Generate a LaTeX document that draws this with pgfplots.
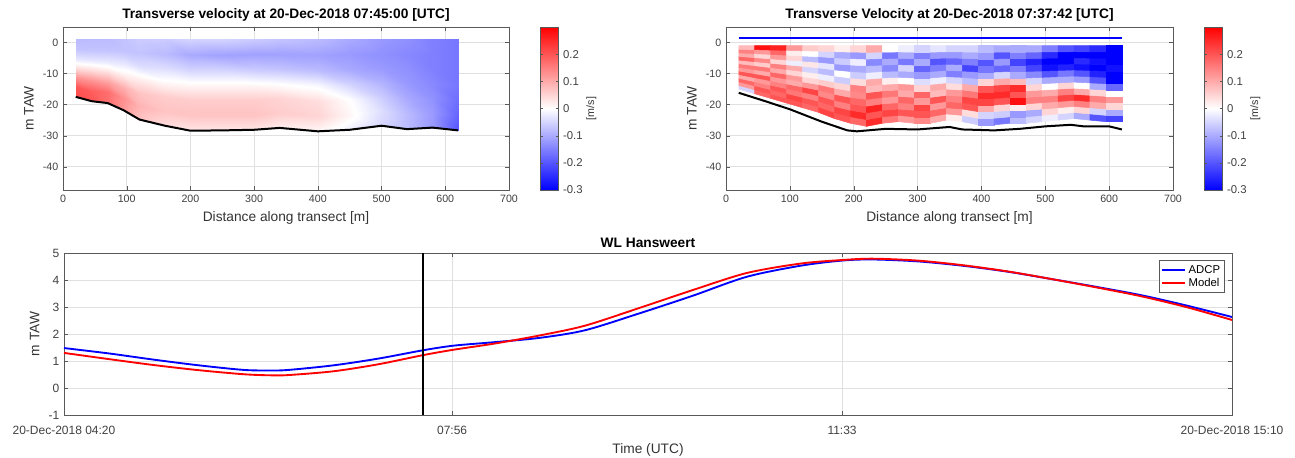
\documentclass[border=0pt]{standalone}
\usepackage{fontspec}
\setmainfont{Liberation Sans}
\usepackage{pgfplots}
\usepackage{pgfplotstable}
\pgfplotsset{compat=1.18}

\definecolor{axgray}{gray}{0.35}
\definecolor{gridgray}{gray}{0.88}

\pgfplotsset{
  matlab/.style={
    scale only axis,
    anchor=south west,
    font=\fontsize{8}{9.6}\selectfont,
    /pgf/number format/assume math mode=true,
    tick label style={font=\fontsize{8}{9.6}\selectfont, text=black!75},
    label style={font=\fontsize{10.3}{12}\selectfont, text=black!80},
    title style={font=\bfseries\fontsize{10.3}{12}\selectfont, yshift=-5.5pt},
    axis line style={axgray, line width=0.4pt},
    major tick style={axgray},
    major tick length=3pt,
    grid=major,
    major grid style={gridgray, line width=0.4pt},
    tick align=inside,
  },
  colormap={bwr}{rgb255=(0,0,255) rgb255=(255,255,255) rgb255=(255,0,0)},
  velbar/.style={
    colorbar,
    point meta min=-0.3, point meta max=0.3,
    colorbar style={
      at={(parent axis.north east)}, anchor=north west, xshift=15pt,
      width=13.5pt,
      ytick={-0.3,-0.2,-0.1,0,0.1,0.2},
      yticklabel style={font=\fontsize{8.5}{10}\selectfont, text=black!75,
        /pgf/number format/.cd, fixed, assume math mode=true},
      ylabel={[m/s]},
      ylabel style={font=\fontsize{8}{9.6}\selectfont, text=black!80, yshift=4pt},
      axis line style={axgray},
      major tick length=2pt,
    },
  },
}

% left panel: smoothed field, columns from bed (first row) to surface
\pgfplotstableread{
x y c
20 -17.5 0.21
20 -14.42 0.20
20 -11.33 0.13
20 -8.25 0.04
20 -5.17 -0.03
20 -2.08 -0.07
20 1 -0.08
45 -18.9 0.20
45 -15.58 0.19
45 -12.27 0.13
45 -8.95 0.04
45 -5.63 -0.03
45 -2.32 -0.07
45 1 -0.08
70 -19.5 0.17
70 -16.08 0.17
70 -12.67 0.11
70 -9.25 0.03
70 -5.83 -0.03
70 -2.42 -0.07
70 1 -0.08
95 -21.8 0.12
95 -18.0 0.13
95 -14.2 0.09
95 -10.4 0.02
95 -6.6 -0.03
95 -2.8 -0.07
95 1 -0.07
120 -24.8 0.07
120 -20.5 0.09
120 -16.2 0.07
120 -11.9 0.02
120 -7.6 -0.04
120 -3.3 -0.07
120 1 -0.06
160 -26.8 0.04
160 -22.17 0.07
160 -17.53 0.06
160 -12.9 0.01
160 -8.27 -0.04
160 -3.63 -0.08
160 1 -0.06
200 -28.4 0.03
200 -23.5 0.07
200 -18.6 0.06
200 -13.7 0.01
200 -8.8 -0.05
200 -3.9 -0.10
200 1 -0.05
250 -28.3 0.03
250 -23.42 0.07
250 -18.53 0.06
250 -13.65 0.01
250 -8.77 -0.05
250 -3.88 -0.11
250 1 -0.05
300 -28.1 0.03
300 -23.25 0.07
300 -18.4 0.06
300 -13.55 0.01
300 -8.7 -0.06
300 -3.85 -0.11
300 1 -0.06
340 -27.5 0.02
340 -22.75 0.06
340 -18.0 0.05
340 -13.25 0.00
340 -8.5 -0.07
340 -3.75 -0.11
340 1 -0.07
400 -28.6 0.01
400 -23.67 0.05
400 -18.73 0.04
400 -13.8 -0.01
400 -8.87 -0.08
400 -3.93 -0.11
400 1 -0.08
450 -28.1 -0.02
450 -23.25 0.01
450 -18.4 0.00
450 -13.55 -0.05
450 -8.7 -0.10
450 -3.85 -0.12
450 1 -0.10
500 -26.8 -0.05
500 -22.17 -0.04
500 -17.53 -0.06
500 -12.9 -0.09
500 -8.27 -0.12
500 -3.63 -0.13
500 1 -0.12
540 -27.9 -0.08
540 -23.08 -0.08
540 -18.27 -0.10
540 -13.45 -0.12
540 -8.63 -0.13
540 -3.82 -0.14
540 1 -0.13
580 -27.4 -0.12
580 -22.67 -0.12
580 -17.93 -0.13
580 -13.2 -0.14
580 -8.47 -0.15
580 -3.73 -0.15
580 1 -0.15
620 -28.3 -0.20
620 -23.42 -0.18
620 -18.53 -0.17
620 -13.65 -0.16
620 -8.77 -0.16
620 -3.88 -0.16
620 1 -0.16
}\fieldA

\pgfplotstableread{
x y
20 -17.5
45 -18.9
70 -19.5
95 -21.8
120 -24.8
160 -26.8
200 -28.4
250 -28.3
300 -28.1
340 -27.5
400 -28.6
450 -28.1
500 -26.8
540 -27.9
580 -27.4
620 -28.3
}\bedA

% right panel: ADCP bins, columns from lowest bin to the top bin
\pgfplotstableread{
x y c
20 -15 -0.05
20 -13.83 0.12
20 -12.67 0.18
20 -11.5 0.10
20 -10.33 0.20
20 -9.17 0.12
20 -8 0.16
20 -6.83 0.08
20 -5.67 0.18
20 -4.5 0.10
20 -3.33 0.15
20 -2.17 0.08
20 -1 0.10
45 -16.5 0.18
45 -15.21 0.20
45 -13.92 0.15
45 -12.63 0.12
45 -11.33 0.20
45 -10.04 0.10
45 -8.75 0.16
45 -7.46 0.06
45 -6.17 0.14
45 -4.88 0.05
45 -3.58 0.12
45 -2.29 0.28
45 -1 0.28
70 -18 0.20
70 -16.58 0.18
70 -15.17 0.20
70 -13.75 0.15
70 -12.33 0.12
70 -10.92 0.18
70 -9.5 0.10
70 -8.08 0.15
70 -6.67 0.05
70 -5.25 0.12
70 -3.83 0.18
70 -2.42 0.26
70 -1 0.25
95 -19.5 0.20
95 -17.96 0.22
95 -16.42 0.16
95 -14.88 0.18
95 -13.33 0.10
95 -11.79 0.12
95 -10.25 0.05
95 -8.71 0.10
95 -7.17 -0.02
95 -5.63 0.05
95 -4.08 0.02
95 -2.54 0.12
95 -1 0.10
120 -21 0.18
120 -19.33 0.20
120 -17.67 0.15
120 -16 0.22
120 -14.33 0.12
120 -12.67 0.05
120 -11 0.02
120 -9.33 -0.05
120 -7.67 0.03
120 -6 -0.08
120 -4.33 0.00
120 -2.67 0.06
120 -1 0.08
145 -22.5 0.22
145 -20.71 0.18
145 -18.92 0.20
145 -17.13 0.14
145 -15.33 0.16
145 -13.54 0.06
145 -11.75 -0.02
145 -9.96 -0.08
145 -8.17 -0.03
145 -6.38 -0.12
145 -4.58 -0.05
145 -2.79 0.05
145 -1 0.05
170 -24.5 0.20
170 -22.54 0.22
170 -20.58 0.15
170 -18.63 0.20
170 -16.67 0.10
170 -14.71 0.05
170 -12.75 -0.06
170 -10.79 0.00
170 -8.83 -0.12
170 -6.88 -0.06
170 -4.92 -0.10
170 -2.96 0.02
170 -1 0.05
195 -26 0.18
195 -23.92 0.25
195 -21.83 0.20
195 -19.75 0.18
195 -17.67 0.14
195 -15.58 0.15
195 -13.5 0.04
195 -11.42 -0.06
195 -9.33 -0.10
195 -7.25 -0.02
195 -5.17 -0.12
195 -3.08 0.05
195 -1 0.10
220 -27 0.25
220 -24.83 0.20
220 -22.67 0.26
220 -20.5 0.15
220 -18.33 0.20
220 -16.17 0.08
220 -14 0.10
220 -11.83 -0.02
220 -9.67 -0.08
220 -7.5 -0.14
220 -5.33 -0.05
220 -3.17 0.10
220 -1 0.12
245 -26 0.16
245 -23.92 0.22
245 -21.83 0.18
245 -19.75 0.12
245 -17.67 0.16
245 -15.58 0.10
245 -13.5 0.02
245 -11.42 -0.08
245 -9.33 -0.14
245 -7.25 -0.10
245 -5.17 -0.16
245 -3.08 0.00
245 -1 0.10
270 -25.5 0.12
270 -23.46 0.20
270 -21.42 0.15
270 -19.38 0.18
270 -17.33 0.10
270 -15.29 0.12
270 -13.25 0.00
270 -11.21 -0.10
270 -9.17 -0.05
270 -7.13 -0.16
270 -5.08 -0.10
270 -3.04 -0.02
270 -1 0.05
295 -26 0.14
295 -23.92 0.20
295 -21.83 0.22
295 -19.75 0.12
295 -17.67 0.18
295 -15.58 0.05
295 -13.5 -0.04
295 -11.42 -0.12
295 -9.33 -0.18
295 -7.25 -0.10
295 -5.17 -0.15
295 -3.08 -0.05
295 -1 0.05
320 -26 0.10
320 -23.92 0.18
320 -21.83 0.12
320 -19.75 0.20
320 -17.67 0.08
320 -15.58 0.10
320 -13.5 -0.02
320 -11.42 -0.10
320 -9.33 -0.15
320 -7.25 -0.20
320 -5.17 -0.12
320 -3.08 -0.03
320 -1 0.10
345 -25 0.02
345 -23 0.12
345 -21 0.18
345 -19 0.15
345 -17 0.12
345 -15 0.04
345 -13 -0.05
345 -11 -0.15
345 -9 -0.10
345 -7 -0.18
345 -5 -0.12
345 -3 -0.05
345 -1 0.08
370 -25.5 -0.06
370 -23.46 0.04
370 -21.42 0.20
370 -19.38 0.22
370 -17.33 0.16
370 -15.29 0.10
370 -13.25 -0.08
370 -11.21 -0.12
370 -9.17 -0.22
370 -7.13 -0.15
370 -5.08 -0.10
370 -3.04 -0.05
370 -1 0.05
395 -26.5 -0.12
395 -24.38 -0.05
395 -22.25 0.10
395 -20.13 0.22
395 -18 0.25
395 -15.88 0.20
395 -13.75 0.05
395 -11.63 -0.10
395 -9.5 -0.16
395 -7.38 -0.20
395 -5.25 -0.12
395 -3.13 -0.08
395 -1 0.05
420 -26.5 -0.16
420 -24.38 -0.06
420 -22.25 0.05
420 -20.13 0.20
420 -18 0.25
420 -15.88 0.22
420 -13.75 0.10
420 -11.63 -0.05
420 -9.5 -0.18
420 -7.38 -0.12
420 -5.25 -0.20
420 -3.13 -0.10
420 -1 0.05
445 -26 -0.08
445 -23.92 -0.12
445 -21.83 0.02
445 -19.75 0.28
445 -17.67 0.20
445 -15.58 0.25
445 -13.5 0.08
445 -11.42 -0.10
445 -9.33 -0.15
445 -7.25 -0.22
445 -5.17 -0.15
445 -3.08 -0.10
445 -1 0.00
470 -26 -0.05
470 -23.92 -0.10
470 -21.83 0.05
470 -19.75 0.15
470 -17.67 0.12
470 -15.58 0.05
470 -13.5 -0.05
470 -11.42 -0.14
470 -9.33 -0.22
470 -7.25 -0.26
470 -5.17 -0.18
470 -3.08 -0.10
470 -1 0.00
495 -25.5 -0.02
495 -23.46 0.05
495 -21.42 0.10
495 -19.38 0.15
495 -17.33 0.10
495 -15.29 0.00
495 -13.25 -0.10
495 -11.21 -0.20
495 -9.17 -0.28
495 -7.13 -0.30
495 -5.08 -0.25
495 -3.04 -0.15
495 -1 -0.05
520 -25 -0.05
520 -23 0.02
520 -21 0.12
520 -19 0.22
520 -17 0.15
520 -15 0.05
520 -13 -0.10
520 -11 -0.16
520 -9 -0.26
520 -7 -0.30
520 -5 -0.30
520 -3 -0.20
520 -1 -0.10
545 -24.5 -0.10
545 -22.54 0.05
545 -20.58 0.15
545 -18.63 0.25
545 -16.67 0.10
545 -14.71 0.00
545 -12.75 -0.12
545 -10.79 -0.20
545 -8.83 -0.28
545 -6.88 -0.25
545 -4.92 -0.30
545 -2.96 -0.22
545 -1 -0.10
570 -25 -0.20
570 -23 -0.05
570 -21 0.10
570 -19 0.15
570 -17 0.05
570 -15 -0.10
570 -13 -0.20
570 -11 -0.26
570 -9 -0.30
570 -7 -0.28
570 -5 -0.30
570 -3 -0.25
570 -1 -0.15
595 -25.5 -0.22
595 -23.46 -0.10
595 -21.42 0.05
595 -19.38 0.12
595 -17.33 0.00
595 -15.29 -0.18
595 -13.25 -0.30
595 -11.21 -0.30
595 -9.17 -0.28
595 -7.13 -0.30
595 -5.08 -0.30
595 -3.04 -0.30
595 -1 -0.22
620 -25.5 -0.20
620 -23.46 -0.10
620 -21.42 0.05
620 -19.38 0.10
620 -17.33 0.00
620 -15.29 -0.15
620 -13.25 -0.30
620 -11.21 -0.30
620 -9.17 -0.30
620 -7.13 -0.30
620 -5.08 -0.30
620 -3.04 -0.30
620 -1 -0.20
}\fieldB

\pgfplotstableread{
x y
20 -16.2
60 -18.8
100 -21.5
150 -25.5
190 -28.3
205 -28.6
250 -27.8
300 -28.0
350 -27.2
370 -28.0
420 -28.3
460 -27.8
500 -27.0
540 -26.5
560 -27.0
600 -27.0
620 -28.0
}\bedB

% water level, minutes after 20-Dec-2018 04:20
\pgfplotstableread{
t wl
0 1.48
25 1.28
50 1.05
75 0.84
100 0.67
115 0.65
125 0.67
150 0.84
175 1.09
200 1.40
217 1.57
240 1.70
265 1.86
290 2.14
320 2.76
350 3.42
380 4.12
410 4.53
433 4.72
450 4.76
475 4.69
500 4.53
525 4.31
550 4.03
575 3.74
600 3.43
625 3.05
650 2.63
}\adcp

\pgfplotstableread{
t wl
0 1.30
25 1.07
50 0.85
75 0.66
100 0.51
115 0.47
125 0.48
150 0.62
175 0.88
200 1.22
217 1.42
240 1.65
265 1.95
290 2.31
320 2.96
350 3.63
380 4.26
410 4.61
433 4.74
450 4.79
475 4.72
500 4.55
525 4.32
550 4.03
575 3.72
600 3.39
625 2.99
650 2.52
}\model

\begin{document}
\begin{tikzpicture}
\useasboundingbox (0,0) rectangle (971.25pt,-342.75pt);

\begin{axis}[matlab, velbar,
  at={(47.25pt,-142.5pt)}, width=334.5pt, height=122.25pt,
  xmin=0, xmax=700, ymin=-47.5, ymax=5,
  xtick={0,100,...,700}, ytick={-40,-30,...,0},
  title={Transverse velocity at 20-Dec-2018 07:45:00 [UTC]},
  xlabel={Distance along transect [m]}, ylabel={m TAW},
]
\addplot[surf, shader=interp, mesh/cols=7, point meta=\thisrow{c}] table[x=x, y=y] {\fieldA};
\addplot[black, line width=1.5pt] table[x=x, y=y] {\bedA};
\end{axis}

\begin{axis}[matlab, velbar,
  at={(544.5pt,-142.5pt)}, width=335.25pt, height=122.25pt,
  xmin=0, xmax=700, ymin=-47.5, ymax=5,
  xtick={0,100,...,700}, ytick={-40,-30,...,0},
  title={Transverse Velocity at 20-Dec-2018 07:37:42 [UTC]},
  xlabel={Distance along transect [m]}, ylabel={m TAW},
]
\addplot[surf, shader=flat corner, mesh/cols=13, point meta=\thisrow{c}] table[x=x, y=y] {\fieldB};
\addplot[black, line width=1.5pt] table[x=x, y=y] {\bedB};
\addplot[blue, line width=1.5pt] coordinates {(20,1.5) (620,1.5)};
\end{axis}

\begin{axis}[matlab,
  at={(48pt,-311.25pt)}, width=876pt, height=121.5pt,
  xmin=0, xmax=650, ymin=-1, ymax=5,
  xtick={0,216,433,650},
  xticklabels={20-Dec-2018 04:20, 07:56, 11:33, 20-Dec-2018 15:10},
  tick label style={font=\fontsize{9}{10.8}\selectfont, text=black!75},
  xticklabel style={yshift=-5pt},
  ytick={-1,0,...,5},
  title={WL Hansweert},
  xlabel={Time (UTC)}, ylabel={m TAW},
  legend style={at={(0.994,0.955)}, anchor=north east, draw=axgray,
    font=\fontsize{8.5}{9.5}\selectfont, inner sep=1.5pt, row sep=-2pt,
    cells={anchor=west}},
  legend cell align=left,
]
\addplot[blue, line width=1.4pt, smooth] table[x=t, y=wl] {\adcp};
\addplot[red, line width=1.4pt, smooth] table[x=t, y=wl] {\model};
\addplot[black, line width=1.5pt, forget plot] coordinates {(200,-1) (200,5)};
\legend{ADCP, Model}
\end{axis}
\end{tikzpicture}
\end{document}
